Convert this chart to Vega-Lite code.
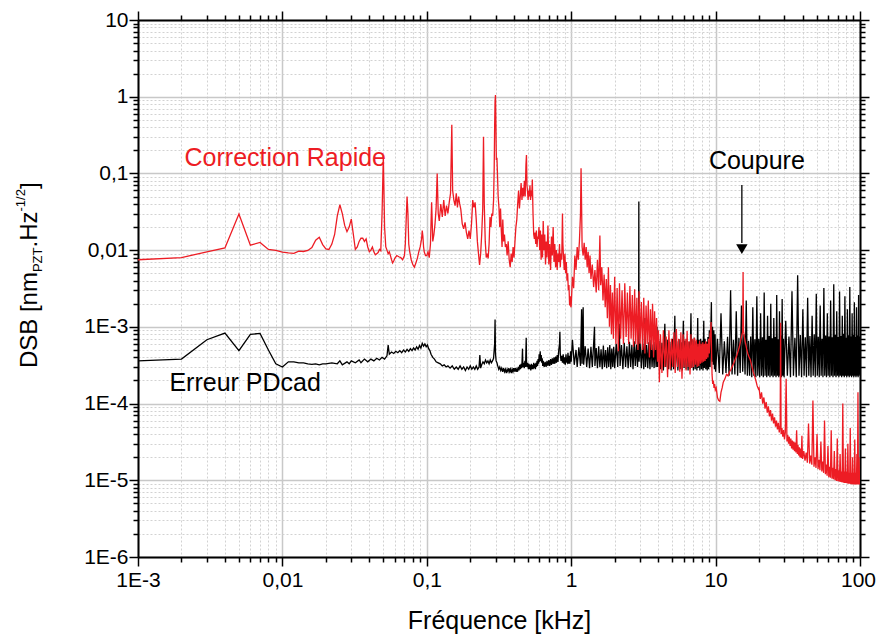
{
"$schema":"https://vega.github.io/schema/vega-lite/v6.json",
"autosize":{"type":"none"},
"width":722,"height":537,
"padding":{"left":138,"top":20,"right":16,"bottom":82},
"background":"white",
"config":{"view":{"stroke":null},"font":"Liberation Sans","text":{"font":"Liberation Sans"}},
"datasets":{
"black":[
{"f":0.001,"v":3.6e-4},{"f":0.002,"v":3.8e-4},{"f":0.003,"v":6.8e-4},{"f":0.004,"v":8.3e-4},{"f":0.005,"v":4.9e-4},{"f":0.006,"v":8.0e-4},{"f":0.007,"v":8.2e-4},{"f":0.008,"v":5.0e-4},{"f":0.009,"v":3.3e-4},{"f":0.010,"v":3.0e-4},
{"f":0.011,"v":3.5e-4},{"f":0.012,"v":3.5e-4},{"f":0.013,"v":3.4e-4},{"f":0.014,"v":3.4e-4},{"f":0.015,"v":3.3e-4},{"f":0.016,"v":3.25e-4},{"f":0.017,"v":3.3e-4},{"f":0.018,"v":3.2e-4},{"f":0.019,"v":3.3e-4},{"f":0.020,"v":3.3e-4},
{"f":0.022,"v":3.4e-4},{"f":0.024,"v":3.3e-4},{"f":0.025,"v":3.6e-4},{"f":0.026,"v":3.2e-4},{"f":0.028,"v":3.5e-4},{"f":0.029,"v":3.3e-4},{"f":0.030,"v":3.6e-4},{"f":0.032,"v":3.4e-4},{"f":0.034,"v":3.7e-4},{"f":0.035,"v":3.4e-4},
{"f":0.037,"v":3.8e-4},{"f":0.039,"v":3.5e-4},{"f":0.041,"v":3.8e-4},{"f":0.043,"v":3.6e-4},{"f":0.045,"v":3.9e-4},{"f":0.047,"v":3.7e-4},{"f":0.049,"v":4.0e-4},{"f":0.051,"v":3.8e-4},{"f":0.053,"v":4.2e-4},{"f":0.054,"v":5.8e-4},
{"f":0.055,"v":4.4e-4},{"f":0.057,"v":4.7e-4},{"f":0.059,"v":4.5e-4},{"f":0.061,"v":4.8e-4},{"f":0.063,"v":4.6e-4},{"f":0.065,"v":4.9e-4},{"f":0.067,"v":4.6e-4},{"f":0.069,"v":5.0e-4},{"f":0.071,"v":4.7e-4},{"f":0.073,"v":5.1e-4},
{"f":0.075,"v":4.8e-4},{"f":0.077,"v":5.2e-4},{"f":0.079,"v":4.9e-4},{"f":0.081,"v":5.3e-4},{"f":0.083,"v":5.0e-4},{"f":0.085,"v":5.5e-4},{"f":0.087,"v":5.1e-4},{"f":0.089,"v":5.7e-4},{"f":0.091,"v":5.3e-4},{"f":0.093,"v":6.1e-4},
{"f":0.095,"v":5.6e-4},{"f":0.097,"v":6.0e-4},{"f":0.099,"v":5.5e-4},{"f":0.101,"v":5.8e-4},{"f":0.103,"v":5.2e-4},{"f":0.105,"v":4.9e-4},{"f":0.107,"v":4.4e-4},{"f":0.110,"v":4.0e-4},{"f":0.113,"v":3.8e-4},{"f":0.116,"v":3.5e-4},
{"f":0.120,"v":3.4e-4},{"f":0.124,"v":3.3e-4},{"f":0.128,"v":3.1e-4},{"f":0.132,"v":3.2e-4},{"f":0.136,"v":3.0e-4},{"f":0.140,"v":3.1e-4},{"f":0.145,"v":2.9e-4},{"f":0.150,"v":3.1e-4},{"f":0.155,"v":2.8e-4},{"f":0.160,"v":3.0e-4},
{"f":0.165,"v":2.8e-4},{"f":0.170,"v":3.1e-4},{"f":0.175,"v":2.8e-4},{"f":0.180,"v":3.0e-4},{"f":0.185,"v":2.7e-4},{"f":0.190,"v":3.0e-4},{"f":0.195,"v":2.8e-4},{"f":0.200,"v":3.1e-4},{"f":0.205,"v":2.8e-4},{"f":0.210,"v":3.0e-4},
{"f":0.215,"v":2.8e-4},{"f":0.220,"v":3.1e-4},{"f":0.225,"v":2.8e-4},{"f":0.230,"v":3.0e-4},{"f":0.233,"v":4.3e-4},{"f":0.236,"v":2.9e-4},{"f":0.240,"v":3.2e-4},{"f":0.245,"v":3.5e-4},{"f":0.250,"v":3.3e-4},{"f":0.255,"v":3.7e-4},
{"f":0.260,"v":3.4e-4},{"f":0.265,"v":3.6e-4},{"f":0.270,"v":3.3e-4},{"f":0.275,"v":3.7e-4},{"f":0.280,"v":3.4e-4},{"f":0.285,"v":3.6e-4},{"f":0.290,"v":3.9e-4},{"f":0.295,"v":6.0e-4},{"f":0.297,"v":1.25e-3},{"f":0.299,"v":4.5e-4},
{"f":0.302,"v":3.6e-4},{"f":0.306,"v":3.4e-4},{"f":0.310,"v":3.1e-4},{"f":0.315,"v":2.8e-4},{"f":0.320,"v":3.0e-4},{"f":0.325,"v":2.7e-4},{"f":0.330,"v":2.9e-4},{"f":0.335,"v":2.6e-4},{"f":0.340,"v":2.9e-4},{"f":0.345,"v":2.6e-4},
{"f":0.350,"v":2.8e-4},{"f":0.355,"v":2.5e-4},{"f":0.360,"v":2.8e-4},{"f":0.365,"v":2.6e-4},{"f":0.370,"v":2.9e-4},{"f":0.375,"v":2.6e-4},{"f":0.380,"v":2.8e-4},{"f":0.385,"v":2.5e-4},{"f":0.390,"v":2.8e-4},{"f":0.395,"v":2.6e-4},
{"f":0.400,"v":2.9e-4},{"f":0.405,"v":2.6e-4},{"f":0.410,"v":2.9e-4},{"f":0.415,"v":2.6e-4},{"f":0.420,"v":2.8e-4},{"f":0.425,"v":2.6e-4},{"f":0.430,"v":3.0e-4},{"f":0.435,"v":2.7e-4},{"f":0.440,"v":3.2e-4},{"f":0.445,"v":2.8e-4},
{"f":0.450,"v":3.3e-4},{"f":0.455,"v":2.9e-4},{"f":0.460,"v":5.2e-4},{"f":0.463,"v":3.0e-4},{"f":0.468,"v":3.4e-4},{"f":0.473,"v":2.9e-4},{"f":0.478,"v":3.6e-4},{"f":0.483,"v":3.0e-4},{"f":0.488,"v":7.2e-4},{"f":0.491,"v":3.2e-4},
{"f":0.495,"v":3.0e-4},{"f":0.500,"v":3.4e-4},{"f":0.505,"v":2.8e-4},{"f":0.510,"v":3.3e-4},{"f":0.515,"v":2.8e-4},{"f":0.520,"v":3.2e-4},{"f":0.525,"v":2.7e-4},{"f":0.530,"v":3.3e-4},{"f":0.535,"v":2.8e-4},{"f":0.540,"v":3.2e-4},
{"f":0.545,"v":2.8e-4},{"f":0.550,"v":3.4e-4},{"f":0.555,"v":2.9e-4},{"f":0.560,"v":3.3e-4},{"f":0.565,"v":2.8e-4},{"f":0.570,"v":3.4e-4},{"f":0.575,"v":3.0e-4},{"f":0.580,"v":3.6e-4},{"f":0.585,"v":3.1e-4},{"f":0.590,"v":3.8e-4},
{"f":0.595,"v":3.3e-4},{"f":0.600,"v":4.4e-4},{"f":0.605,"v":3.5e-4},{"f":0.610,"v":4.8e-4},{"f":0.615,"v":3.6e-4},{"f":0.620,"v":4.3e-4},{"f":0.625,"v":3.4e-4},{"f":0.630,"v":3.9e-4},{"f":0.635,"v":3.1e-4},{"f":0.640,"v":3.6e-4},
{"f":0.650,"v":3.0e-4},{"f":0.660,"v":3.5e-4},{"f":0.670,"v":3.0e-4},{"f":0.680,"v":3.6e-4},{"f":0.690,"v":3.1e-4},{"f":0.700,"v":3.7e-4},{"f":0.710,"v":3.1e-4},{"f":0.720,"v":3.8e-4},{"f":0.730,"v":3.2e-4},{"f":0.740,"v":3.9e-4},
{"f":0.750,"v":3.3e-4},{"f":0.760,"v":4.0e-4},{"f":0.770,"v":3.3e-4},{"f":0.780,"v":4.1e-4},{"f":0.790,"v":3.4e-4},{"f":0.800,"v":4.3e-4},{"f":0.810,"v":3.5e-4},{"f":0.820,"v":5.0e-4},{"f":0.830,"v":6.0e-4},{"f":0.835,"v":8.6e-4},
{"f":0.840,"v":4.5e-4},{"f":0.850,"v":3.6e-4},{"f":0.860,"v":4.2e-4},{"f":0.870,"v":3.4e-4},{"f":0.880,"v":4.4e-4},{"f":0.890,"v":3.3e-4},{"f":0.900,"v":4.0e-4},{"f":0.910,"v":3.2e-4},{"f":0.920,"v":4.4e-4},{"f":0.930,"v":3.5e-4},
{"f":0.940,"v":3.4e-4},{"f":0.950,"v":4.6e-4},{"f":0.960,"v":3.3e-4},{"f":0.970,"v":4.2e-4},{"f":0.980,"v":3.3e-4},{"f":0.990,"v":4.8e-4},
{"f":1.00,"v":3.5e-4},{"f":1.02,"v":6.8e-4},{"f":1.05,"v":3.2e-4},{"f":1.08,"v":5.0e-4},{"f":1.10,"v":3.0e-4},{"f":1.13,"v":5.4e-4},{"f":1.16,"v":3.1e-4},{"f":1.18,"v":1.7e-3},{"f":1.19,"v":3.3e-4},{"f":1.21,"v":1.8e-3},
{"f":1.22,"v":3.2e-4},{"f":1.25,"v":5.6e-4},{"f":1.28,"v":3.0e-4},{"f":1.31,"v":5.2e-4},{"f":1.34,"v":2.9e-4},{"f":1.37,"v":5.5e-4},{"f":1.40,"v":3.0e-4},{"f":1.43,"v":6.0e-4},{"f":1.45,"v":1.0e-3},{"f":1.46,"v":3.1e-4},
{"f":1.49,"v":5.3e-4},{"f":1.52,"v":2.9e-4},{"f":1.55,"v":5.6e-4},{"f":1.58,"v":3.0e-4},{"f":1.61,"v":5.1e-4},{"f":1.64,"v":2.8e-4},{"f":1.67,"v":5.7e-4},{"f":1.70,"v":3.0e-4},{"f":1.73,"v":5.0e-4},{"f":1.76,"v":2.9e-4},
{"f":1.79,"v":5.4e-4},{"f":1.82,"v":3.0e-4},{"f":1.85,"v":5.8e-4},{"f":1.88,"v":2.8e-4},{"f":1.91,"v":5.2e-4},{"f":1.94,"v":3.0e-4},{"f":1.97,"v":5.5e-4},{"f":2.00,"v":2.9e-4},
{"f":2.05,"v":6.0e-4},{"f":2.10,"v":3.0e-4},{"f":2.15,"v":1.1e-3},{"f":2.18,"v":3.1e-4},{"f":2.23,"v":5.8e-4},{"f":2.28,"v":2.8e-4},{"f":2.33,"v":6.2e-4},{"f":2.38,"v":3.0e-4},{"f":2.43,"v":5.6e-4},{"f":2.48,"v":2.9e-4},
{"f":2.53,"v":6.4e-4},{"f":2.58,"v":3.0e-4},{"f":2.63,"v":5.8e-4},{"f":2.68,"v":2.8e-4},{"f":2.73,"v":6.5e-4},{"f":2.78,"v":3.1e-4},{"f":2.83,"v":5.9e-4},{"f":2.88,"v":3.0e-4},{"f":2.93,"v":1.0e-3},{"f":2.94,"v":0.043},
{"f":2.95,"v":3.5e-4},{"f":3.00,"v":6.2e-4},{"f":3.06,"v":2.9e-4},{"f":3.12,"v":6.0e-4},{"f":3.18,"v":2.8e-4},{"f":3.24,"v":1.3e-3},{"f":3.27,"v":3.0e-4},{"f":3.33,"v":5.8e-4},{"f":3.39,"v":2.9e-4},{"f":3.45,"v":6.3e-4},
{"f":3.51,"v":2.8e-4},{"f":3.57,"v":6.8e-4},{"f":3.63,"v":3.0e-4},{"f":3.69,"v":5.9e-4},{"f":3.75,"v":2.9e-4},{"f":3.81,"v":6.4e-4},{"f":3.87,"v":3.0e-4},{"f":3.93,"v":1.0e-3},{"f":3.96,"v":3.0e-4},
{"f":4.05,"v":6.6e-4},{"f":4.15,"v":2.8e-4},{"f":4.25,"v":6.2e-4},{"f":4.35,"v":2.7e-4},{"f":4.45,"v":1.1e-3},{"f":4.52,"v":3.0e-4},{"f":4.62,"v":6.8e-4},{"f":4.72,"v":2.8e-4},{"f":4.82,"v":6.4e-4},{"f":4.92,"v":2.7e-4},
{"f":5.02,"v":7.0e-4},{"f":5.12,"v":2.8e-4},{"f":5.22,"v":1.4e-3},{"f":5.28,"v":3.0e-4},{"f":5.38,"v":6.5e-4},{"f":5.48,"v":2.7e-4},{"f":5.58,"v":6.9e-4},{"f":5.68,"v":2.8e-4},{"f":5.78,"v":6.3e-4},{"f":5.88,"v":2.7e-4},
{"f":5.98,"v":1.2e-3},{"f":6.05,"v":2.9e-4},{"f":6.15,"v":6.6e-4},{"f":6.25,"v":2.8e-4},{"f":6.35,"v":7.0e-4},{"f":6.45,"v":2.7e-4},{"f":6.55,"v":6.4e-4},{"f":6.65,"v":2.8e-4},{"f":6.75,"v":1.5e-3},{"f":6.82,"v":2.9e-4},
{"f":6.92,"v":6.7e-4},{"f":7.02,"v":2.7e-4},{"f":7.12,"v":7.2e-4},{"f":7.22,"v":2.8e-4},{"f":7.32,"v":6.5e-4},{"f":7.42,"v":2.7e-4},{"f":7.52,"v":1.3e-3},{"f":7.58,"v":2.9e-4},{"f":7.68,"v":6.8e-4},{"f":7.78,"v":2.7e-4},
{"f":7.88,"v":7.0e-4},{"f":7.98,"v":2.8e-4},{"f":8.08,"v":6.6e-4},{"f":8.18,"v":2.7e-4},{"f":8.28,"v":1.2e-3},{"f":8.35,"v":2.9e-4},{"f":8.45,"v":7.0e-4},{"f":8.55,"v":2.8e-4},{"f":8.65,"v":6.4e-4},{"f":8.75,"v":2.7e-4},
{"f":8.85,"v":7.4e-4},{"f":8.95,"v":2.8e-4},{"f":9.05,"v":9.0e-4},{"f":9.15,"v":3.0e-4},{"f":9.25,"v":8.0e-4},{"f":9.35,"v":2.1e-3},{"f":9.42,"v":3.5e-4},{"f":9.52,"v":1.0e-3},{"f":9.62,"v":3.2e-4},{"f":9.72,"v":9.0e-4},
{"f":9.82,"v":2.8e-4},{"f":9.92,"v":8.0e-4},
{"f":10.0,"v":2.6e-4},{"f":10.3,"v":7.0e-4},{"f":10.6,"v":2.5e-4},{"f":10.9,"v":1.5e-3},{"f":11.2,"v":2.4e-4},{"f":11.5,"v":6.5e-4},{"f":11.8,"v":2.5e-4},{"f":12.1,"v":7.4e-4},{"f":12.4,"v":2.3e-4},{"f":12.7,"v":3.0e-3},
{"f":13.0,"v":2.4e-4},{"f":13.3,"v":6.8e-4},{"f":13.6,"v":2.4e-4},{"f":13.9,"v":1.6e-3},{"f":14.2,"v":2.3e-4},{"f":14.5,"v":7.2e-4},{"f":14.8,"v":2.5e-4},{"f":15.1,"v":1.9e-3},{"f":15.4,"v":2.6e-4},{"f":15.7,"v":8.0e-4},
{"f":16.0,"v":2.4e-4},{"f":16.3,"v":2.2e-3},{"f":16.6,"v":2.3e-4},{"f":16.9,"v":6.6e-4},{"f":17.2,"v":2.3e-4},{"f":17.5,"v":7.5e-4},{"f":17.8,"v":2.2e-4},{"f":18.1,"v":1.8e-3},{"f":18.4,"v":2.3e-4},{"f":18.7,"v":6.9e-4},
{"f":19.0,"v":2.2e-4},{"f":19.3,"v":2.5e-3},{"f":19.6,"v":2.3e-4},{"f":19.9,"v":7.0e-4},{"f":20.2,"v":2.2e-4},{"f":20.5,"v":1.5e-3},{"f":20.8,"v":2.3e-4},{"f":21.1,"v":7.3e-4},{"f":21.4,"v":2.2e-4},{"f":21.7,"v":2.8e-3},
{"f":22.0,"v":2.3e-4},{"f":22.3,"v":6.8e-4},{"f":22.6,"v":2.2e-4},{"f":22.9,"v":1.4e-3},{"f":23.2,"v":2.3e-4},{"f":23.5,"v":7.6e-4},{"f":23.8,"v":2.2e-4},{"f":24.1,"v":2.0e-3},{"f":24.4,"v":2.3e-4},{"f":24.7,"v":7.1e-4},
{"f":25.0,"v":2.2e-4},{"f":25.3,"v":1.3e-3},{"f":25.6,"v":2.3e-4},{"f":25.9,"v":7.4e-4},{"f":26.2,"v":2.2e-4},{"f":26.5,"v":2.6e-3},{"f":26.8,"v":2.3e-4},{"f":27.1,"v":6.9e-4},{"f":27.4,"v":2.2e-4},{"f":27.7,"v":1.6e-3},
{"f":28.0,"v":2.3e-4},{"f":28.3,"v":7.7e-4},{"f":28.6,"v":2.2e-4},{"f":28.9,"v":2.3e-3},{"f":29.2,"v":2.3e-4},{"f":29.5,"v":7.0e-4},{"f":29.8,"v":2.2e-4},
{"f":30.6,"v":1.2e-3},{"f":31.4,"v":2.3e-4},{"f":32.2,"v":7.5e-4},{"f":33.0,"v":2.2e-4},{"f":33.8,"v":2.9e-3},{"f":34.6,"v":2.3e-4},{"f":35.4,"v":7.2e-4},{"f":36.2,"v":2.2e-4},{"f":37.0,"v":4.7e-3},{"f":37.8,"v":2.3e-4},
{"f":38.6,"v":7.8e-4},{"f":39.4,"v":2.2e-4},{"f":40.2,"v":1.7e-3},{"f":41.0,"v":2.3e-4},{"f":41.8,"v":7.3e-4},{"f":42.6,"v":2.2e-4},{"f":43.4,"v":2.4e-3},{"f":44.2,"v":2.3e-4},{"f":45.0,"v":7.6e-4},{"f":45.8,"v":2.2e-4},
{"f":46.6,"v":1.4e-3},{"f":47.4,"v":2.3e-4},{"f":48.2,"v":8.0e-4},{"f":49.0,"v":2.2e-4},{"f":49.8,"v":2.7e-3},{"f":50.6,"v":2.3e-4},{"f":51.4,"v":7.4e-4},{"f":52.2,"v":2.2e-4},{"f":53.0,"v":1.9e-3},{"f":53.8,"v":2.3e-4},
{"f":54.6,"v":7.0e-4},{"f":55.4,"v":2.2e-4},{"f":56.2,"v":3.2e-3},{"f":57.0,"v":2.3e-4},{"f":57.8,"v":7.7e-4},{"f":58.6,"v":2.2e-4},{"f":59.4,"v":1.5e-3},{"f":60.2,"v":2.3e-4},{"f":61.0,"v":7.5e-4},{"f":61.8,"v":2.2e-4},
{"f":62.6,"v":2.2e-3},{"f":63.4,"v":2.3e-4},{"f":64.2,"v":7.3e-4},{"f":65.0,"v":2.2e-4},{"f":65.8,"v":3.6e-3},{"f":66.6,"v":2.3e-4},{"f":67.4,"v":7.9e-4},{"f":68.2,"v":2.2e-4},{"f":69.0,"v":1.6e-3},{"f":69.8,"v":2.3e-4},
{"f":70.6,"v":7.4e-4},{"f":71.4,"v":2.2e-4},{"f":72.2,"v":2.9e-3},{"f":73.0,"v":2.3e-4},{"f":73.8,"v":7.6e-4},{"f":74.6,"v":2.2e-4},{"f":75.4,"v":1.4e-3},{"f":76.2,"v":2.3e-4},{"f":77.0,"v":8.1e-4},{"f":77.8,"v":2.2e-4},
{"f":78.6,"v":2.5e-3},{"f":79.4,"v":2.3e-4},{"f":80.2,"v":7.2e-4},{"f":81.0,"v":2.2e-4},{"f":81.8,"v":1.7e-3},{"f":82.6,"v":2.3e-4},{"f":83.4,"v":7.8e-4},{"f":84.2,"v":2.2e-4},{"f":85.0,"v":3.3e-3},{"f":85.8,"v":2.3e-4},
{"f":86.6,"v":7.5e-4},{"f":87.4,"v":2.2e-4},{"f":88.2,"v":1.5e-3},{"f":89.0,"v":2.3e-4},{"f":89.8,"v":7.9e-4},{"f":90.6,"v":2.2e-4},{"f":91.4,"v":2.1e-3},{"f":92.2,"v":2.3e-4},{"f":93.0,"v":7.4e-4},{"f":93.8,"v":2.2e-4},
{"f":94.6,"v":1.8e-3},{"f":95.4,"v":2.3e-4},{"f":96.2,"v":7.7e-4},{"f":97.0,"v":2.2e-4},{"f":97.8,"v":2.6e-3},{"f":98.6,"v":2.3e-4},{"f":99.4,"v":7.5e-4},{"f":100,"v":2.4e-4}
],
"red":[
{"f":0.001,"v":0.0075},{"f":0.002,"v":0.008},{"f":0.003,"v":0.0095},{"f":0.004,"v":0.0107},{"f":0.005,"v":0.0296},{"f":0.006,"v":0.0116},{"f":0.007,"v":0.0126},{"f":0.008,"v":0.0102},{"f":0.009,"v":0.0099},{"f":0.010,"v":0.0094},
{"f":0.011,"v":0.0092},{"f":0.012,"v":0.0091},{"f":0.013,"v":0.0097},{"f":0.014,"v":0.0096},{"f":0.015,"v":0.0099},{"f":0.016,"v":0.0108},{"f":0.017,"v":0.0135},{"f":0.018,"v":0.0147},{"f":0.019,"v":0.0118},{"f":0.020,"v":0.0104},
{"f":0.021,"v":0.0102},{"f":0.022,"v":0.012},{"f":0.023,"v":0.016},{"f":0.024,"v":0.028},{"f":0.025,"v":0.039},{"f":0.026,"v":0.03},{"f":0.027,"v":0.021},{"f":0.028,"v":0.0174},{"f":0.029,"v":0.02},{"f":0.030,"v":0.0254},
{"f":0.031,"v":0.016},{"f":0.032,"v":0.0102},{"f":0.033,"v":0.011},{"f":0.034,"v":0.013},{"f":0.035,"v":0.0143},{"f":0.036,"v":0.0143},{"f":0.037,"v":0.013},{"f":0.038,"v":0.014},{"f":0.039,"v":0.011},{"f":0.040,"v":0.0095},
{"f":0.041,"v":0.01},{"f":0.042,"v":0.011},{"f":0.043,"v":0.0095},{"f":0.044,"v":0.0087},{"f":0.045,"v":0.009},{"f":0.046,"v":0.0093},{"f":0.047,"v":0.0102},{"f":0.048,"v":0.0098},{"f":0.049,"v":0.03},{"f":0.050,"v":0.17},
{"f":0.051,"v":0.02},{"f":0.052,"v":0.011},{"f":0.053,"v":0.01},{"f":0.054,"v":0.009},{"f":0.055,"v":0.0095},{"f":0.056,"v":0.0085},{"f":0.057,"v":0.0075},{"f":0.058,"v":0.0068},{"f":0.059,"v":0.0072},{"f":0.060,"v":0.0078},
{"f":0.062,"v":0.0085},{"f":0.064,"v":0.0082},{"f":0.066,"v":0.008},{"f":0.068,"v":0.0075},{"f":0.070,"v":0.0085},{"f":0.071,"v":0.012},{"f":0.072,"v":0.025},{"f":0.073,"v":0.05},{"f":0.074,"v":0.03},{"f":0.075,"v":0.012},
{"f":0.076,"v":0.0098},{"f":0.078,"v":0.0075},{"f":0.080,"v":0.0065},{"f":0.082,"v":0.006},{"f":0.084,"v":0.0068},{"f":0.086,"v":0.0078},{"f":0.088,"v":0.0095},{"f":0.090,"v":0.011},{"f":0.092,"v":0.014},{"f":0.093,"v":0.018},
{"f":0.094,"v":0.015},{"f":0.095,"v":0.011},{"f":0.096,"v":0.0095},{"f":0.098,"v":0.0085},{"f":0.100,"v":0.0085},{"f":0.102,"v":0.0095},{"f":0.104,"v":0.008},{"f":0.106,"v":0.012},{"f":0.108,"v":0.042},{"f":0.110,"v":0.013},
{"f":0.112,"v":0.016},{"f":0.114,"v":0.022},{"f":0.116,"v":0.035},{"f":0.118,"v":0.1},{"f":0.120,"v":0.03},{"f":0.122,"v":0.024},{"f":0.125,"v":0.04},{"f":0.128,"v":0.027},{"f":0.131,"v":0.045},{"f":0.134,"v":0.028},
{"f":0.137,"v":0.038},{"f":0.140,"v":0.03},{"f":0.143,"v":0.042},{"f":0.146,"v":0.055},{"f":0.149,"v":0.43},{"f":0.151,"v":0.06},{"f":0.154,"v":0.045},{"f":0.157,"v":0.038},{"f":0.160,"v":0.055},{"f":0.163,"v":0.036},
{"f":0.166,"v":0.05},{"f":0.169,"v":0.04},{"f":0.172,"v":0.034},{"f":0.176,"v":0.022},{"f":0.180,"v":0.019},{"f":0.184,"v":0.023},{"f":0.188,"v":0.017},{"f":0.192,"v":0.014},{"f":0.196,"v":0.018},{"f":0.200,"v":0.014},
{"f":0.204,"v":0.022},{"f":0.208,"v":0.045},{"f":0.212,"v":0.036},{"f":0.216,"v":0.042},{"f":0.220,"v":0.025},{"f":0.224,"v":0.013},{"f":0.228,"v":0.009},{"f":0.232,"v":0.0064},{"f":0.236,"v":0.009},{"f":0.240,"v":0.016},
{"f":0.244,"v":0.035},{"f":0.247,"v":0.3},{"f":0.250,"v":0.04},{"f":0.254,"v":0.013},{"f":0.258,"v":0.008},{"f":0.262,"v":0.009},{"f":0.266,"v":0.0078},{"f":0.270,"v":0.012},{"f":0.274,"v":0.027},{"f":0.278,"v":0.02},
{"f":0.282,"v":0.03},{"f":0.286,"v":0.028},{"f":0.290,"v":0.045},{"f":0.293,"v":0.12},{"f":0.295,"v":0.4},{"f":0.297,"v":0.88},{"f":0.299,"v":1.05},{"f":0.301,"v":0.45},{"f":0.303,"v":0.15},{"f":0.306,"v":0.16},
{"f":0.309,"v":0.09},{"f":0.312,"v":0.05},{"f":0.316,"v":0.036},{"f":0.320,"v":0.02},{"f":0.324,"v":0.035},{"f":0.328,"v":0.018},{"f":0.332,"v":0.011},{"f":0.336,"v":0.025},{"f":0.340,"v":0.013},{"f":0.345,"v":0.016},
{"f":0.350,"v":0.011},{"f":0.355,"v":0.012},{"f":0.360,"v":0.0085},{"f":0.366,"v":0.013},{"f":0.372,"v":0.0075},{"f":0.378,"v":0.006},{"f":0.384,"v":0.009},{"f":0.390,"v":0.007},{"f":0.396,"v":0.011},{"f":0.402,"v":0.008},
{"f":0.408,"v":0.013},{"f":0.414,"v":0.02},{"f":0.420,"v":0.025},{"f":0.426,"v":0.04},{"f":0.432,"v":0.06},{"f":0.438,"v":0.035},{"f":0.444,"v":0.05},{"f":0.450,"v":0.075},{"f":0.456,"v":0.045},{"f":0.462,"v":0.065},
{"f":0.468,"v":0.05},{"f":0.474,"v":0.08},{"f":0.480,"v":0.05},{"f":0.486,"v":0.13},{"f":0.490,"v":0.174},{"f":0.494,"v":0.07},{"f":0.498,"v":0.06},{"f":0.503,"v":0.045},{"f":0.508,"v":0.06},{"f":0.513,"v":0.05},
{"f":0.518,"v":0.07},{"f":0.523,"v":0.045},{"f":0.528,"v":0.06},{"f":0.533,"v":0.05},{"f":0.538,"v":0.083},{"f":0.544,"v":0.03},{"f":0.550,"v":0.016},{"f":0.556,"v":0.014},{"f":0.562,"v":0.017},{"f":0.568,"v":0.012},
{"f":0.574,"v":0.018},{"f":0.580,"v":0.011},{"f":0.586,"v":0.015},{"f":0.592,"v":0.014},{"f":0.598,"v":0.02},{"f":0.605,"v":0.01},{"f":0.612,"v":0.018},{"f":0.619,"v":0.0075},{"f":0.626,"v":0.016},{"f":0.633,"v":0.008},
{"f":0.640,"v":0.024},{"f":0.648,"v":0.01},{"f":0.656,"v":0.016},{"f":0.664,"v":0.0065},{"f":0.672,"v":0.013},{"f":0.680,"v":0.008},{"f":0.690,"v":0.021},{"f":0.700,"v":0.0065},{"f":0.710,"v":0.012},{"f":0.720,"v":0.0055},
{"f":0.730,"v":0.015},{"f":0.740,"v":0.0085},{"f":0.750,"v":0.02},{"f":0.760,"v":0.007},{"f":0.770,"v":0.012},{"f":0.780,"v":0.006},{"f":0.790,"v":0.01},{"f":0.800,"v":0.0055},{"f":0.810,"v":0.009},{"f":0.820,"v":0.007},
{"f":0.830,"v":0.012},{"f":0.840,"v":0.006},{"f":0.850,"v":0.009},{"f":0.860,"v":0.0075},{"f":0.870,"v":0.03},{"f":0.876,"v":0.012},{"f":0.885,"v":0.008},{"f":0.895,"v":0.0055},{"f":0.905,"v":0.009},{"f":0.915,"v":0.005},
{"f":0.925,"v":0.007},{"f":0.935,"v":0.004},{"f":0.945,"v":0.005},{"f":0.955,"v":0.003},{"f":0.965,"v":0.0035},{"f":0.975,"v":0.0019},{"f":0.985,"v":0.0025},{"f":0.995,"v":0.0018},
{"f":1.00,"v":0.0019},{"f":1.02,"v":0.0045},{"f":1.04,"v":0.0032},{"f":1.06,"v":0.0085},{"f":1.08,"v":0.0055},{"f":1.10,"v":0.011},{"f":1.12,"v":0.0075},{"f":1.14,"v":0.013},{"f":1.16,"v":0.03},{"f":1.17,"v":0.117},
{"f":1.18,"v":0.04},{"f":1.19,"v":0.011},{"f":1.21,"v":0.0085},{"f":1.23,"v":0.0125},{"f":1.25,"v":0.0075},{"f":1.27,"v":0.011},{"f":1.29,"v":0.006},{"f":1.31,"v":0.0095},{"f":1.33,"v":0.005},{"f":1.35,"v":0.0085},
{"f":1.37,"v":0.0042},{"f":1.40,"v":0.0065},{"f":1.43,"v":0.0033},{"f":1.46,"v":0.0055},{"f":1.49,"v":0.0028},{"f":1.52,"v":0.0075},{"f":1.55,"v":0.003},{"f":1.58,"v":0.0155},{"f":1.60,"v":0.0035},{"f":1.63,"v":0.006},
{"f":1.66,"v":0.0022},{"f":1.69,"v":0.0048},{"f":1.72,"v":0.0018},{"f":1.75,"v":0.0042},{"f":1.78,"v":0.0013},{"f":1.81,"v":0.006},{"f":1.84,"v":0.001},{"f":1.87,"v":0.0035},{"f":1.90,"v":0.0008},{"f":1.93,"v":0.0028},
{"f":1.96,"v":0.0007},{"f":2.00,"v":0.0045},{"f":2.04,"v":0.0006},{"f":2.08,"v":0.0032},{"f":2.12,"v":0.00048},{"f":2.16,"v":0.0037},{"f":2.20,"v":0.0007},{"f":2.25,"v":0.003},{"f":2.30,"v":0.0006},{"f":2.35,"v":0.0037},
{"f":2.40,"v":0.00074},{"f":2.45,"v":0.0028},{"f":2.50,"v":0.0006},{"f":2.55,"v":0.0034},{"f":2.60,"v":0.0007},{"f":2.65,"v":0.0026},{"f":2.70,"v":0.00055},{"f":2.75,"v":0.0031},{"f":2.80,"v":0.0006},{"f":2.85,"v":0.0024},
{"f":2.90,"v":0.0005},{"f":2.95,"v":0.0029},{"f":3.00,"v":0.0006},{"f":3.06,"v":0.0021},{"f":3.12,"v":0.0005},{"f":3.18,"v":0.0024},{"f":3.24,"v":0.00045},{"f":3.30,"v":0.0019},{"f":3.36,"v":0.0006},{"f":3.42,"v":0.0022},
{"f":3.48,"v":0.0004},{"f":3.54,"v":0.0017},{"f":3.60,"v":0.0005},{"f":3.66,"v":0.002},{"f":3.72,"v":0.0004},{"f":3.78,"v":0.0016},{"f":3.84,"v":0.0005},{"f":3.90,"v":0.0013},{"f":3.96,"v":0.00035},{"f":4.02,"v":0.0009},
{"f":4.08,"v":0.00019},{"f":4.15,"v":0.0008},{"f":4.25,"v":0.00025},{"f":4.35,"v":0.0009},{"f":4.45,"v":0.0003},{"f":4.55,"v":0.00075},{"f":4.65,"v":0.00022},{"f":4.75,"v":0.0009},{"f":4.85,"v":0.00028},{"f":4.95,"v":0.0007},
{"f":5.05,"v":0.0003},{"f":5.15,"v":0.00085},{"f":5.25,"v":0.00025},{"f":5.35,"v":0.00094},{"f":5.45,"v":0.0003},{"f":5.55,"v":0.0007},{"f":5.65,"v":0.00026},{"f":5.75,"v":0.00085},{"f":5.85,"v":0.00021},{"f":5.95,"v":0.0008},
{"f":6.05,"v":0.0003},{"f":6.15,"v":0.0007},{"f":6.25,"v":0.00027},{"f":6.35,"v":0.00088},{"f":6.45,"v":0.0003},{"f":6.55,"v":0.00065},{"f":6.65,"v":0.00024},{"f":6.75,"v":0.0008},{"f":6.85,"v":0.00029},{"f":6.95,"v":0.0007},
{"f":7.05,"v":0.0003},{"f":7.15,"v":0.00072},{"f":7.25,"v":0.00032},{"f":7.35,"v":0.00068},{"f":7.45,"v":0.0003},{"f":7.55,"v":0.0006},{"f":7.65,"v":0.00031},{"f":7.75,"v":0.00066},{"f":7.85,"v":0.00033},{"f":7.95,"v":0.0006},
{"f":8.05,"v":0.00034},{"f":8.15,"v":0.00063},{"f":8.25,"v":0.00035},{"f":8.35,"v":0.0006},{"f":8.45,"v":0.00036},{"f":8.55,"v":0.00065},{"f":8.65,"v":0.00038},{"f":8.75,"v":0.0006},{"f":8.85,"v":0.0004},{"f":8.95,"v":0.0007},
{"f":9.05,"v":0.00045},{"f":9.15,"v":0.0008},{"f":9.25,"v":0.0009},{"f":9.30,"v":0.00116},{"f":9.35,"v":0.0006},{"f":9.45,"v":0.00024},{"f":9.55,"v":0.00018},{"f":9.65,"v":0.0002},{"f":9.75,"v":0.00016},{"f":9.85,"v":0.00018},
{"f":9.95,"v":0.00015},{"f":10.1,"v":0.00016},{"f":10.3,"v":0.00012},{"f":10.5,"v":0.00011},{"f":10.7,"v":0.000107},{"f":10.9,"v":0.00014},{"f":11.1,"v":0.00016},{"f":11.3,"v":0.00019},{"f":11.6,"v":0.00021},{"f":11.9,"v":0.00024},
{"f":12.2,"v":0.00023},{"f":12.5,"v":0.00026},{"f":12.8,"v":0.00028},{"f":13.1,"v":0.00031},{"f":13.4,"v":0.00034},{"f":13.7,"v":0.00038},{"f":14.0,"v":0.00042},{"f":14.3,"v":0.00048},{"f":14.6,"v":0.00055},{"f":14.9,"v":0.00065},
{"f":15.2,"v":0.00078},{"f":15.4,"v":0.00085},{"f":15.5,"v":0.0052},{"f":15.6,"v":0.0009},{"f":15.8,"v":0.00075},{"f":16.1,"v":0.00062},{"f":16.4,"v":0.00052},{"f":16.7,"v":0.00045},{"f":17.0,"v":0.00041},{"f":17.4,"v":0.00037},
{"f":17.8,"v":0.00031},{"f":18.2,"v":0.00026},{"f":18.6,"v":0.00023},{"f":19.0,"v":0.0002},{"f":19.4,"v":0.00017},{"f":19.8,"v":0.000155},
{"f":20.0,"v":1.6e-4},{"f":20.4,"v":1.15e-4},{"f":20.8,"v":1.4e-4},{"f":21.2,"v":1.0e-4},{"f":21.6,"v":1.2e-4},{"f":22.0,"v":8.6e-5},{"f":22.4,"v":1.05e-4},{"f":22.8,"v":7.6e-5},{"f":23.2,"v":9.2e-5},{"f":23.6,"v":6.8e-5},
{"f":24.0,"v":8.2e-5},{"f":24.4,"v":6.0e-5},{"f":24.8,"v":7.4e-5},{"f":25.2,"v":5.5e-5},{"f":25.6,"v":6.6e-5},{"f":26.0,"v":5.0e-5},{"f":26.4,"v":6.0e-5},{"f":26.8,"v":4.6e-5},{"f":27.2,"v":5.6e-5},{"f":27.6,"v":4.2e-5},
{"f":28.0,"v":5.2e-5},{"f":28.2,"v":1.13e-3},{"f":28.4,"v":4.0e-5},{"f":28.8,"v":4.8e-5},{"f":29.2,"v":3.7e-5},{"f":29.6,"v":4.5e-5},{"f":30.0,"v":3.4e-5},{"f":30.4,"v":4.2e-5},{"f":30.8,"v":2.1e-4},{"f":31.2,"v":3.2e-5},
{"f":31.6,"v":3.9e-5},{"f":32.0,"v":3.0e-5},{"f":32.4,"v":3.7e-5},{"f":32.8,"v":2.8e-5},{"f":33.2,"v":3.5e-5},{"f":33.6,"v":2.6e-5},{"f":34.0,"v":3.3e-5},{"f":34.4,"v":2.5e-5},{"f":34.8,"v":3.2e-5},{"f":35.2,"v":2.4e-5},
{"f":35.6,"v":3.1e-5},{"f":36.0,"v":2.3e-5},{"f":36.4,"v":4.5e-5},{"f":36.8,"v":2.2e-5},{"f":37.2,"v":2.9e-5},{"f":37.6,"v":2.1e-5},{"f":38.0,"v":2.7e-5},{"f":38.4,"v":2.0e-5},{"f":38.8,"v":2.6e-5},{"f":39.2,"v":1.95e-5},
{"f":39.6,"v":3.8e-5},{"f":40.0,"v":1.9e-5},{"f":40.8,"v":2.4e-5},{"f":41.6,"v":1.8e-5},{"f":42.4,"v":2.3e-5},{"f":43.2,"v":1.7e-5},{"f":44.0,"v":5.5e-5},{"f":44.8,"v":1.65e-5},{"f":45.6,"v":2.1e-5},{"f":46.4,"v":1.6e-5},
{"f":47.2,"v":1.1e-4},{"f":48.0,"v":1.5e-5},{"f":48.8,"v":2.0e-5},{"f":49.6,"v":1.45e-5},{"f":50.4,"v":4.0e-5},{"f":51.2,"v":1.4e-5},{"f":52.0,"v":1.85e-5},{"f":52.8,"v":1.35e-5},{"f":53.6,"v":3.2e-5},{"f":54.4,"v":1.3e-5},
{"f":55.2,"v":1.75e-5},{"f":56.0,"v":1.25e-5},{"f":56.8,"v":6.0e-5},{"f":57.6,"v":1.2e-5},{"f":58.4,"v":1.6e-5},{"f":59.2,"v":1.15e-5},{"f":60.0,"v":2.8e-5},{"f":60.8,"v":1.1e-5},{"f":61.6,"v":1.5e-5},{"f":62.4,"v":1.08e-5},
{"f":63.2,"v":4.5e-5},{"f":64.0,"v":1.05e-5},{"f":64.8,"v":1.45e-5},{"f":65.6,"v":1.03e-5},{"f":66.4,"v":2.4e-5},{"f":67.2,"v":1.0e-5},{"f":68.0,"v":1.4e-5},{"f":68.8,"v":9.8e-6},{"f":69.6,"v":3.5e-5},{"f":70.4,"v":9.7e-6},
{"f":71.2,"v":1.35e-5},{"f":72.0,"v":9.6e-6},{"f":72.8,"v":2.2e-5},{"f":73.6,"v":9.5e-6},{"f":74.4,"v":1.3e-5},{"f":75.2,"v":9.4e-6},{"f":76.0,"v":1.0e-4},{"f":76.8,"v":9.3e-6},{"f":77.6,"v":1.3e-5},{"f":78.4,"v":9.2e-6},
{"f":79.2,"v":2.6e-5},{"f":80.0,"v":9.2e-6},{"f":80.8,"v":1.3e-5},{"f":81.6,"v":9.1e-6},{"f":82.4,"v":3.0e-5},{"f":83.2,"v":9.0e-6},{"f":84.0,"v":1.25e-5},{"f":84.8,"v":9.0e-6},{"f":85.6,"v":4.8e-5},{"f":86.4,"v":8.9e-6},
{"f":87.2,"v":1.25e-5},{"f":88.0,"v":8.9e-6},{"f":88.8,"v":2.0e-5},{"f":89.6,"v":8.8e-6},{"f":90.4,"v":1.25e-5},{"f":91.2,"v":8.8e-6},{"f":92.0,"v":3.4e-5},{"f":92.8,"v":8.8e-6},{"f":93.6,"v":1.25e-5},{"f":94.4,"v":8.8e-6},
{"f":95.2,"v":2.2e-5},{"f":96.0,"v":8.8e-6},{"f":96.8,"v":1.4e-4},{"f":97.6,"v":8.8e-6},{"f":98.4,"v":1.3e-5},{"f":99.2,"v":8.8e-6},{"f":100,"v":2.0e-5}
]
},
"resolve":{"axis":{"x":"independent","y":"independent"}},
"layer":[
{
"data":{"name":"black"},
"mark":{"type":"line","color":"#000000","strokeWidth":1.3,"clip":true},
"encoding":{
"x":{"field":"f","type":"quantitative","scale":{"type":"log","domain":[0.001,100],"nice":false},
"axis":{"orient":"bottom","values":[0.001,0.002,0.003,0.004,0.005,0.006,0.007,0.008,0.009,0.01,0.02,0.03,0.04,0.05,0.06,0.07,0.08,0.09,0.1,0.2,0.3,0.4,0.5,0.6,0.7,0.8,0.9,1,2,3,4,5,6,7,8,9,10,20,30,40,50,60,70,80,90,100],
"labelExpr":"abs(log(datum.value)/LN10-round(log(datum.value)/LN10))>0.001 ? '' : datum.value<0.005 ? '1E'+round(log(datum.value)/LN10) : datum.value<0.05 ? '0,01' : datum.value<0.5 ? '0,1' : format(datum.value,'d')",
"labelFlush":false,"labelOverlap":false,"labelBound":false,"labelFont":"Liberation Sans","labelFontSize":21,"labelColor":"#000000","labelPadding":3,
"labelOffset":{"condition":{"test":"datum.value>50","value":-2},"value":0},
"tickColor":"#000000","tickWidth":1.5,"tickSize":{"condition":{"test":"abs(log(datum.value)/LN10-round(log(datum.value)/LN10))<0.001","value":9},"value":5},
"domainColor":"#000000","domainWidth":2,
"grid":true,"gridColor":{"condition":{"test":"abs(log(datum.value)/LN10-round(log(datum.value)/LN10))<0.001","value":"#c8c8c8"},"value":"#d2d2d2"},
"gridDash":{"condition":{"test":"abs(log(datum.value)/LN10-round(log(datum.value)/LN10))<0.001","value":[]},"value":[2,2]},
"gridWidth":{"condition":{"test":"abs(log(datum.value)/LN10-round(log(datum.value)/LN10))<0.001","value":1.5},"value":1},
"title":"Fréquence [kHz]","titleFont":"Liberation Sans","titleFontSize":25,"titleFontWeight":"normal","titleColor":"#000000","titlePadding":18}},
"y":{"field":"v","type":"quantitative","scale":{"type":"log","domain":[1e-6,10],"nice":false},
"axis":{"orient":"left","values":[1e-6,2e-6,3e-6,4e-6,5e-6,6e-6,7e-6,8e-6,9e-6,1e-5,2e-5,3e-5,4e-5,5e-5,6e-5,7e-5,8e-5,9e-5,1e-4,2e-4,3e-4,4e-4,5e-4,6e-4,7e-4,8e-4,9e-4,0.001,0.002,0.003,0.004,0.005,0.006,0.007,0.008,0.009,0.01,0.02,0.03,0.04,0.05,0.06,0.07,0.08,0.09,0.1,0.2,0.3,0.4,0.5,0.6,0.7,0.8,0.9,1,2,3,4,5,6,7,8,9,10],
"labelExpr":"abs(log(datum.value)/LN10-round(log(datum.value)/LN10))>0.001 ? '' : datum.value<0.005 ? '1E'+round(log(datum.value)/LN10) : datum.value<0.05 ? '0,01' : datum.value<0.5 ? '0,1' : format(datum.value,'d')",
"labelFlush":false,"labelOverlap":false,"labelBound":false,"labelFont":"Liberation Sans","labelFontSize":21,"labelColor":"#000000","labelPadding":1,
"tickColor":"#000000","tickWidth":1.5,"tickSize":{"condition":{"test":"abs(log(datum.value)/LN10-round(log(datum.value)/LN10))<0.001","value":9},"value":5},
"domainColor":"#000000","domainWidth":2,
"grid":true,"gridColor":{"condition":{"test":"abs(log(datum.value)/LN10-round(log(datum.value)/LN10))<0.001","value":"#c8c8c8"},"value":"#d2d2d2"},
"gridDash":{"condition":{"test":"abs(log(datum.value)/LN10-round(log(datum.value)/LN10))<0.001","value":[]},"value":[2,2]},
"gridWidth":{"condition":{"test":"abs(log(datum.value)/LN10-round(log(datum.value)/LN10))<0.001","value":1.5},"value":1},
"title":null}}
}
},
{
"data":{"name":"red"},
"mark":{"type":"line","color":"#ED1C24","strokeWidth":1.3,"clip":true},
"encoding":{
"x":{"field":"f","type":"quantitative","scale":{"type":"log","domain":[0.001,100],"nice":false},
"axis":{"orient":"top","values":[0.001,0.002,0.003,0.004,0.005,0.006,0.007,0.008,0.009,0.01,0.02,0.03,0.04,0.05,0.06,0.07,0.08,0.09,0.1,0.2,0.3,0.4,0.5,0.6,0.7,0.8,0.9,1,2,3,4,5,6,7,8,9,10,20,30,40,50,60,70,80,90,100],
"labels":false,"grid":false,"title":null,"tickColor":"#000000","tickWidth":1.5,
"tickSize":{"condition":{"test":"abs(log(datum.value)/LN10-round(log(datum.value)/LN10))<0.001","value":9},"value":5},
"domainColor":"#000000","domainWidth":2}},
"y":{"field":"v","type":"quantitative","scale":{"type":"log","domain":[1e-6,10],"nice":false},
"axis":{"orient":"right","values":[1e-6,2e-6,3e-6,4e-6,5e-6,6e-6,7e-6,8e-6,9e-6,1e-5,2e-5,3e-5,4e-5,5e-5,6e-5,7e-5,8e-5,9e-5,1e-4,2e-4,3e-4,4e-4,5e-4,6e-4,7e-4,8e-4,9e-4,0.001,0.002,0.003,0.004,0.005,0.006,0.007,0.008,0.009,0.01,0.02,0.03,0.04,0.05,0.06,0.07,0.08,0.09,0.1,0.2,0.3,0.4,0.5,0.6,0.7,0.8,0.9,1,2,3,4,5,6,7,8,9,10],
"labels":false,"grid":false,"title":null,"tickColor":"#000000","tickWidth":1.5,
"tickSize":{"condition":{"test":"abs(log(datum.value)/LN10-round(log(datum.value)/LN10))<0.001","value":9},"value":5},
"domainColor":"#000000","domainWidth":2}}
}
},
{
"data":{"values":[{"label":"Correction Rapide"}]},
"mark":{"type":"text","color":"#ED1C24","fontSize":25,"align":"left","baseline":"middle","font":"Liberation Sans"},
"encoding":{"text":{"field":"label"},"x":{"datum":0.0021,"type":"quantitative","axis":null},"y":{"datum":0.159,"type":"quantitative","axis":null}}
},
{
"data":{"values":[{"label":"Erreur PDcad"}]},
"mark":{"type":"text","color":"#000000","fontSize":25,"align":"left","baseline":"middle","font":"Liberation Sans"},
"encoding":{"text":{"field":"label"},"x":{"datum":0.00165,"type":"quantitative","axis":null},"y":{"datum":0.000185,"type":"quantitative","axis":null}}
},
{
"data":{"values":[{"label":"Coupure"}]},
"mark":{"type":"text","color":"#000000","fontSize":25,"align":"center","baseline":"middle","font":"Liberation Sans"},
"encoding":{"text":{"field":"label"},"x":{"datum":19.3,"type":"quantitative","axis":null},"y":{"datum":0.145,"type":"quantitative","axis":null}}
},
{
"data":{"values":[{"label":"arrow"}]},
"mark":{"type":"rule","color":"#000000","strokeWidth":1.3},
"encoding":{"x":{"datum":15.2,"type":"quantitative","axis":null},"y":{"datum":0.0706,"type":"quantitative","axis":null},"y2":{"datum":0.0124}}
},
{
"data":{"values":[{"label":"arrowhead"}]},
"mark":{"type":"point","shape":"triangle-down","filled":true,"color":"#000000","opacity":1,"size":130},
"encoding":{"x":{"datum":15.2,"type":"quantitative","axis":null},"y":{"datum":0.0103,"type":"quantitative","axis":null}}
},
{
"data":{"values":[{"label":"DSB [nm"}]},
"mark":{"type":"text","fontSize":24,"angle":270,"align":"left","baseline":"alphabetic","color":"#000000","font":"Liberation Sans"},
"encoding":{"text":{"field":"label"},"x":{"datum":0.0002,"type":"quantitative","axis":null},"y":{"datum":0.00029,"type":"quantitative","axis":null}}
},
{
"data":{"values":[{"label":"PZT"}]},
"mark":{"type":"text","fontSize":13,"angle":270,"align":"left","baseline":"alphabetic","dx":96,"dy":5,"color":"#000000","font":"Liberation Sans"},
"encoding":{"text":{"field":"label"},"x":{"datum":0.0002,"type":"quantitative","axis":null},"y":{"datum":0.00029,"type":"quantitative","axis":null}}
},
{
"data":{"values":[{"label":".Hz"}]},
"mark":{"type":"text","fontSize":24,"angle":270,"align":"left","baseline":"alphabetic","dx":120.6,"dy":0,"color":"#000000","font":"Liberation Sans"},
"encoding":{"text":{"field":"label"},"x":{"datum":0.0002,"type":"quantitative","axis":null},"y":{"datum":0.00029,"type":"quantitative","axis":null}}
},
{
"data":{"values":[{"label":"-1/2"}]},
"mark":{"type":"text","fontSize":13,"angle":270,"align":"left","baseline":"alphabetic","dx":156.6,"dy":-12,"color":"#000000","font":"Liberation Sans"},
"encoding":{"text":{"field":"label"},"x":{"datum":0.0002,"type":"quantitative","axis":null},"y":{"datum":0.00029,"type":"quantitative","axis":null}}
},
{
"data":{"values":[{"label":"]"}]},
"mark":{"type":"text","fontSize":24,"angle":270,"align":"left","baseline":"alphabetic","dx":179,"dy":0,"color":"#000000","font":"Liberation Sans"},
"encoding":{"text":{"field":"label"},"x":{"datum":0.0002,"type":"quantitative","axis":null},"y":{"datum":0.00029,"type":"quantitative","axis":null}}
}
]
}
